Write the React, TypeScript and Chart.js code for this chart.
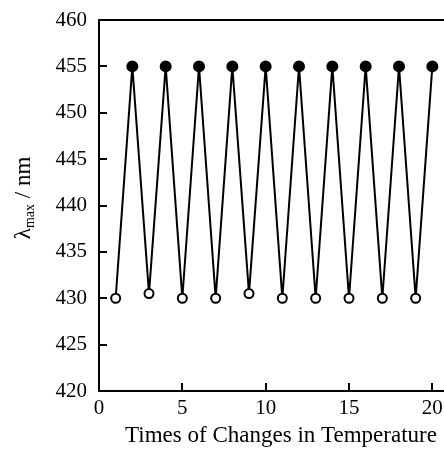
import React, { useEffect, useRef } from "react";
import { Chart, registerables } from "chart.js";

Chart.register(...registerables);

const cycles = [1, 2, 3, 4, 5, 6, 7, 8, 9, 10, 11, 12, 13, 14, 15, 16, 17, 18, 19, 20];
const lambdaMax = [430, 455, 430.5, 455, 430, 455, 430, 455, 430.5, 455, 430, 455, 430, 455, 430, 455, 430, 455, 430, 455];
const xTicks = [0, 5, 10, 15, 20];
const yTicks = [420, 425, 430, 435, 440, 445, 450, 455, 460];
const xTitle = "Times of Changes in Temperature";
const yTitleMain = "\u03bb";
const yTitleSub = "max";
const yTitleTail = " / nm";

const FONT = "'Liberation Serif', 'Times New Roman', serif";

const framePlugin = {
  id: "frame",
  afterDraw(chart: any) {
    const { ctx, chartArea } = chart;
    const { left, right, top, bottom } = chartArea;
    const xs = chart.scales.x;
    const ys = chart.scales.y;
    ctx.save();
    ctx.strokeStyle = "#000";
    ctx.lineWidth = 2;
    ctx.lineCap = "square";
    ctx.beginPath();
    ctx.moveTo(right + 2, top);
    ctx.lineTo(left, top);
    ctx.lineTo(left, bottom);
    ctx.lineTo(right + 2, bottom);
    ctx.stroke();
    ctx.lineCap = "butt";
    ctx.beginPath();
    for (const v of yTicks) {
      const py = Math.round(ys.getPixelForValue(v));
      ctx.moveTo(left, py);
      ctx.lineTo(left + 8, py);
    }
    for (const v of xTicks) {
      const px = Math.round(xs.getPixelForValue(v));
      ctx.moveTo(px, bottom);
      ctx.lineTo(px, bottom - 8);
    }
    ctx.stroke();

    // x title
    ctx.fillStyle = "#000";
    ctx.font = `23px ${FONT}`;
    ctx.textAlign = "center";
    ctx.textBaseline = "alphabetic";
    ctx.fillText(xTitle, 281, 442);

    // y title with subscript
    const bigFont = `23px ${FONT}`;
    const smallFont = `14px ${FONT}`;
    ctx.font = bigFont;
    const w1 = ctx.measureText(yTitleMain).width;
    const w3 = ctx.measureText(yTitleTail).width;
    ctx.font = smallFont;
    const w2 = ctx.measureText(yTitleSub).width;
    const total = w1 + w2 + w3;
    const cy = 198;
    ctx.translate(30, cy + total / 2);
    ctx.rotate(-Math.PI / 2);
    ctx.textAlign = "left";
    ctx.font = bigFont;
    ctx.fillText(yTitleMain, 0, 0);
    ctx.font = smallFont;
    ctx.fillText(yTitleSub, w1, 4);
    ctx.font = bigFont;
    ctx.fillText(yTitleTail, w1 + w2, 0);
    ctx.restore();
  },
};

export default function App() {
  const ref = useRef<HTMLCanvasElement | null>(null);
  useEffect(() => {
    if (!ref.current) return;
    const chart = new Chart(ref.current, {
      type: "line",
      data: {
        datasets: [
          {
            data: cycles.map((c, i) => ({ x: c, y: lambdaMax[i] })),
            borderColor: "#000",
            borderWidth: 2,
            tension: 0,
            pointRadius: cycles.map((c) => (c % 2 === 0 ? 5 : 4.5)),
            pointBackgroundColor: cycles.map((c) => (c % 2 === 0 ? "#000" : "#fff")),
            pointBorderColor: "#000",
            pointBorderWidth: 2,
          },
        ],
      },
      options: {
        responsive: false,
        animation: false,
        events: [],
        layout: { autoPadding: false, padding: { top: 20, right: 0, left: 0, bottom: 0 } },
        plugins: { legend: { display: false }, tooltip: { enabled: false } },
        scales: {
          x: {
            type: "linear",
            min: 0,
            max: 20.7,
            afterBuildTicks: (s: any) => {
              s.ticks = xTicks.map((v) => ({ value: v }));
            },
            afterFit: (s: any) => {
              s.height = 64;
              s.paddingLeft = 0;
              s.paddingRight = 0;
            },
            grid: { display: false, drawTicks: false },
            border: { display: false },
            ticks: {
              color: "#000",
              padding: 5,
              maxRotation: 0,
              font: { family: FONT, size: 21 },
            },
          },
          y: {
            type: "linear",
            min: 420,
            max: 460,
            afterBuildTicks: (s: any) => {
              s.ticks = yTicks.map((v) => ({ value: v }));
            },
            afterFit: (s: any) => {
              s.width = 99;
              s.paddingTop = 0;
              s.paddingBottom = 0;
            },
            grid: { display: false, drawTicks: false },
            border: { display: false },
            ticks: {
              color: "#000",
              padding: 12,
              font: { family: FONT, size: 21 },
            },
          },
        },
      },
      plugins: [framePlugin],
    });
    return () => chart.destroy();
  }, []);
  return (
    <div style={{ position: "absolute", left: 0, top: 0, width: 444, height: 455, background: "#fff" }}>
      <canvas ref={ref} width={444} height={455} style={{ display: "block" }} />
    </div>
  );
}
